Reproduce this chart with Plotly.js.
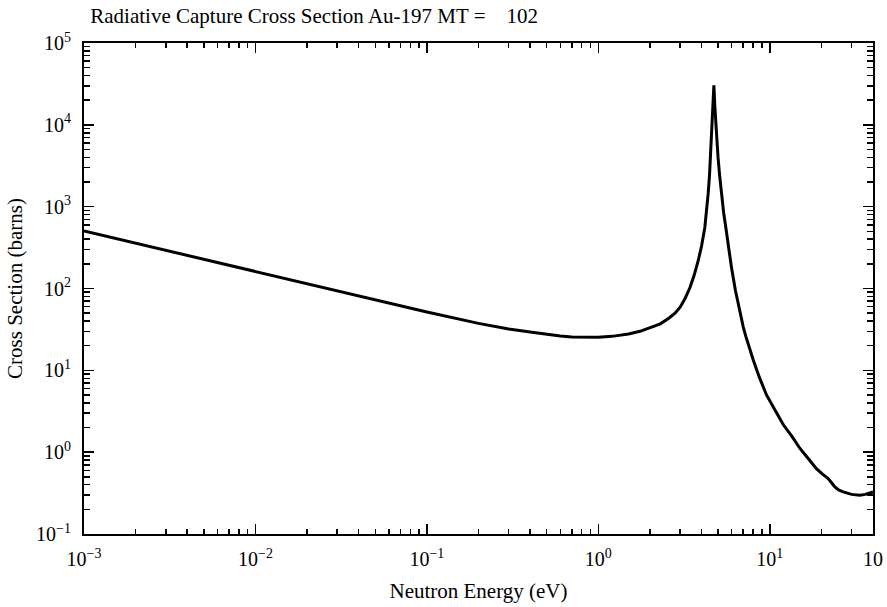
<!DOCTYPE html>
<html><head><meta charset="utf-8">
<script src="https://cdn.plot.ly/plotly-3.0.1.min.js"></script>
<style>html,body{margin:0;padding:0;background:#fff}</style>
</head><body><div id="chart" style="width:887px;height:607px"></div>
<script>
// Neutron energy (eV)
const energy = [0.001, 0.002, 0.005, 0.01, 0.02, 0.05, 0.1, 0.2, 0.3, 0.4, 0.5, 0.6, 0.7, 0.8, 0.9, 1.0,
  1.2, 1.5, 1.75, 2.0, 2.3, 2.6, 2.8, 3.0, 3.2, 3.42, 3.62, 3.82, 4.0, 4.18, 4.28, 4.37, 4.45, 4.51, 4.57, 4.61, 4.66, 4.72,
  4.78, 4.84, 4.91, 4.99, 5.1, 5.23, 5.38, 5.54, 5.75, 5.98, 6.3, 6.5, 6.68, 6.85, 7.0, 7.25, 7.5, 8.0, 8.7, 9.57, 10.7, 12.0, 13.5, 15.0,
  16.8, 18.7, 20.3, 21.9, 23.0, 23.9, 25.2, 26.8, 30.0, 33.5, 36.0, 38.0, 40.0];
// Radiative capture cross section (barns)
const crossSection = [505, 357, 226, 160, 113, 72, 51.5, 37.5, 32, 29.5, 27.5, 26.3, 25.6, 25.3, 25.2, 25.3,
  26.0, 27.8, 30, 33, 37, 44, 50, 59, 75, 102, 145, 217, 330, 557, 850, 1432, 2400, 4030, 6300, 10350, 17000, 30500,
  17000, 10350, 6300, 4030, 2400, 1432, 850, 557, 300, 180, 95, 69, 52, 41, 34, 26, 20.5, 13.5, 8.2, 5.0, 3.3, 2.16, 1.55, 1.11,
  0.83, 0.63, 0.54, 0.477, 0.42, 0.378, 0.345, 0.327, 0.305, 0.298, 0.305, 0.315, 0.327];

const xTickVals = [0.001, 0.01, 0.1, 1, 10, 40];
const xTickText = ['10<sup>−3</sup>', '10<sup>−2</sup>', '10<sup>−1</sup>', '10<sup>0</sup>', '10<sup>1</sup>', '10'];
const yTickVals = [0.1, 1, 10, 100, 1000, 10000, 100000];
const yTickText = ['10<sup>−1</sup>', '10<sup>0</sup>', '10<sup>1</sup>', '10<sup>2</sup>', '10<sup>3</sup>', '10<sup>4</sup>', '10<sup>5</sup>'];
const titleText = 'Radiative Capture Cross Section Au-197 MT =\u00a0\u00a0\u00a0\u00a0102';
const xTitle = 'Neutron Energy (eV)';
const yTitle = 'Cross Section (barns)';

function minorVals(d0, d1, maxV) {
  const out = [];
  for (let d = d0; d <= d1; d++) for (let k = 2; k <= 9; k++) {
    const v = k * Math.pow(10, d);
    if (v < maxV * 0.999) out.push(v);
  }
  return out;
}

const FONT = '"Liberation Serif", "Times New Roman", serif';
const axisCommon = {
  type: 'log', showgrid: false, zeroline: false, showline: true, linecolor: '#000', linewidth: 2,
  mirror: 'ticks', ticks: 'inside', ticklen: 10, tickwidth: 1.5, tickcolor: '#000',
  tickfont: {family: FONT, size: 20, color: '#000'}, tickmode: 'array'
};

const trace = {x: energy, y: crossSection, type: 'scatter', mode: 'lines',
  line: {color: '#000', width: 3}, hoverinfo: 'skip'};

const layout = {
  width: 887, height: 607, paper_bgcolor: '#fff', plot_bgcolor: '#fff', showlegend: false,
  margin: {l: 84, r: 14, t: 43, b: 73},
  title: {text: titleText, font: {family: FONT, size: 21, color: '#000'}, xref: 'paper', x: 0.008, xanchor: 'left', yref: 'container', y: 0.974, yanchor: 'middle'},
  xaxis: Object.assign({}, axisCommon, {range: [-3, Math.log10(40)], tickvals: xTickVals, ticktext: xTickText,
    ticklabelstandoff: 6,
    minor: {tickmode: 'array', tickvals: minorVals(-3, 1, 40), ticks: 'inside', ticklen: 5, tickwidth: 1.5, tickcolor: '#000'},
    title: {text: xTitle, font: {family: FONT, size: 21, color: '#000'}, standoff: 14}}),
  yaxis: Object.assign({}, axisCommon, {range: [-1, 5], tickvals: yTickVals, ticktext: yTickText,
    ticklabelstandoff: 7,
    minor: {tickmode: 'array', tickvals: minorVals(-1, 4, 1e5), ticks: 'inside', ticklen: 6, tickwidth: 1.5, tickcolor: '#000'},
    title: {text: yTitle, font: {family: FONT, size: 21, color: '#000'}, standoff: 8}})
};

Plotly.newPlot('chart', [trace], layout, {displayModeBar: false, staticPlot: true});
</script></body></html>
